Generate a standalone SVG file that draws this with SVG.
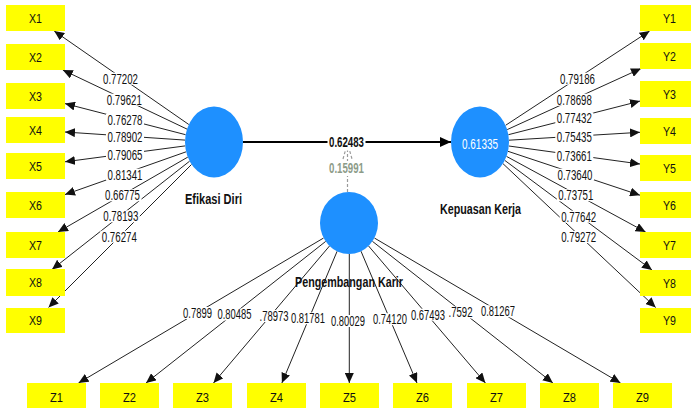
<svg xmlns="http://www.w3.org/2000/svg" width="691" height="408" viewBox="0 0 691 408">
  <defs>
    <marker id="tip" viewBox="0 0 10 9" refX="10" refY="4.5" markerWidth="10" markerHeight="9" markerUnits="userSpaceOnUse" orient="auto">
      <path d="M0,0 L10,4.5 L0,9 z" fill="#111"/>
    </marker>
    <marker id="tipMain" viewBox="0 0 11 10" refX="11" refY="5" markerWidth="11" markerHeight="10" markerUnits="userSpaceOnUse" orient="auto">
      <path d="M0,0 L11,5 L0,10 z" fill="#000"/>
    </marker>
  </defs>
  <style>
    .ind { fill: #ffff00; }
    .lv { fill: #1e90ff; }
    .ln { stroke: #222; stroke-width: 1; fill: none; marker-end: url(#tip); }
    .bg { fill: #ffffff; }
    .num { font-family: "Liberation Sans Narrow", "Liberation Sans", Arial, sans-serif; font-size: 14px; fill: #111; text-anchor: middle; }
    .box { font-family: "Liberation Sans", Arial, sans-serif; font-size: 12.5px; fill: #111; text-anchor: middle; }
    .name { font-family: "Liberation Sans Narrow", "Liberation Sans", Arial, sans-serif; font-size: 14px; font-weight: bold; fill: #111; text-anchor: middle; }
  </style>
  <rect width="691" height="408" fill="#ffffff"/>

  <!-- connectors: outer loadings, path coefficient, moderating effect -->
  <g id="connectors">
    <line class="ln" x1="188.8" y1="124.5" x2="54.2" y2="31"/>
    <line class="ln" x1="187" y1="129.1" x2="62.8" y2="70"/>
    <line class="ln" x1="185.6" y1="134.7" x2="65" y2="103.6"/>
    <line class="ln" x1="185.1" y1="140.1" x2="65" y2="132"/>
    <line class="ln" x1="185.2" y1="145.9" x2="65" y2="161.8"/>
    <line class="ln" x1="186.1" y1="151.8" x2="65" y2="194.6"/>
    <line class="ln" x1="187.8" y1="157.1" x2="58" y2="232"/>
    <line class="ln" x1="189.6" y1="161.2" x2="52" y2="269.5"/>
    <line class="ln" x1="191.5" y1="164.5" x2="48.5" y2="307.5"/>

    <line class="ln" x1="505.6" y1="125.3" x2="649.6" y2="31"/>
    <line class="ln" x1="507.2" y1="129.6" x2="641" y2="68.5"/>
    <line class="ln" x1="508.4" y1="134.7" x2="640" y2="101.1"/>
    <line class="ln" x1="509" y1="140.2" x2="640" y2="132.3"/>
    <line class="ln" x1="508.8" y1="146" x2="640" y2="164"/>
    <line class="ln" x1="508" y1="151.3" x2="640" y2="195.2"/>
    <line class="ln" x1="506.5" y1="156.4" x2="645.6" y2="232"/>
    <line class="ln" x1="504.8" y1="160.4" x2="652" y2="270"/>
    <line class="ln" x1="503" y1="163.7" x2="655.7" y2="307.5"/>

    <line class="ln" x1="323.6" y1="238" x2="78.5" y2="383"/>
    <line class="ln" x1="325.7" y1="241.4" x2="146" y2="383"/>
    <line class="ln" x1="329.5" y1="246" x2="213.5" y2="383"/>
    <line class="ln" x1="337.1" y1="251.3" x2="281.9" y2="383"/>
    <line class="ln" x1="349.3" y1="254" x2="349.3" y2="383"/>
    <line class="ln" x1="361" y1="251.2" x2="417" y2="383"/>
    <line class="ln" x1="368.5" y1="245.9" x2="485.4" y2="383"/>
    <line class="ln" x1="372.4" y1="241.3" x2="552.9" y2="383"/>
    <line class="ln" x1="374.4" y1="238" x2="620.5" y2="383"/>

    <!-- Efikasi Diri -> Kepuasan Kerja -->
    <line x1="243" y1="142" x2="451" y2="142" stroke="#000" stroke-width="2" marker-end="url(#tipMain)"/>

    <!-- moderating effect of Pengembangan Karir -->
    <g stroke="#9a9a9a" stroke-width="1.2" fill="none" stroke-dasharray="3,2">
      <line x1="347.5" y1="192" x2="347.5" y2="143"/>
      <polyline points="343,159 347.5,143 352,159"/>
    </g>

    <!-- loading labels -->
    <g id="loadings-x">
      <rect class="bg" x="102" y="72.7" width="38" height="12"/><text class="num" x="120.5" y="83.6" textLength="35" lengthAdjust="spacingAndGlyphs">0.77202</text>
      <rect class="bg" x="105.3" y="93.7" width="38" height="12"/><text class="num" x="124.3" y="104.6" textLength="35" lengthAdjust="spacingAndGlyphs">0.79621</text>
      <rect class="bg" x="106" y="113.7" width="38" height="12"/><text class="num" x="125" y="124.6" textLength="35" lengthAdjust="spacingAndGlyphs">0.76278</text>
      <rect class="bg" x="106" y="131.3" width="38" height="12"/><text class="num" x="125" y="142.2" textLength="35" lengthAdjust="spacingAndGlyphs">0.78902</text>
      <rect class="bg" x="106" y="148.7" width="38" height="12"/><text class="num" x="125" y="159.6" textLength="35" lengthAdjust="spacingAndGlyphs">0.79065</text>
      <rect class="bg" x="106" y="168.7" width="38" height="12"/><text class="num" x="125" y="179.6" textLength="35" lengthAdjust="spacingAndGlyphs">0.81341</text>
      <rect class="bg" x="103.5" y="189.3" width="38" height="12"/><text class="num" x="122.5" y="200.2" textLength="35" lengthAdjust="spacingAndGlyphs">0.66775</text>
      <rect class="bg" x="101.8" y="210.3" width="38" height="12"/><text class="num" x="120.8" y="221.2" textLength="35" lengthAdjust="spacingAndGlyphs">0.78193</text>
      <rect class="bg" x="100.3" y="230.7" width="38" height="12"/><text class="num" x="119.3" y="241.6" textLength="35" lengthAdjust="spacingAndGlyphs">0.76274</text>
    </g>
    <g id="loadings-y">
      <rect class="bg" x="558.5" y="72.7" width="38" height="12"/><text class="num" x="577.5" y="83.6" textLength="35" lengthAdjust="spacingAndGlyphs">0.79186</text>
      <rect class="bg" x="555.3" y="93.7" width="38" height="12"/><text class="num" x="574.3" y="104.6" textLength="35" lengthAdjust="spacingAndGlyphs">0.78698</text>
      <rect class="bg" x="555.3" y="112.3" width="38" height="12"/><text class="num" x="574.3" y="123.2" textLength="35" lengthAdjust="spacingAndGlyphs">0.77432</text>
      <rect class="bg" x="555.3" y="131.3" width="38" height="12"/><text class="num" x="574.3" y="142.2" textLength="35" lengthAdjust="spacingAndGlyphs">0.75435</text>
      <rect class="bg" x="555.3" y="149.7" width="38" height="12"/><text class="num" x="574.3" y="160.6" textLength="35" lengthAdjust="spacingAndGlyphs">0.73661</text>
      <rect class="bg" x="556" y="168.7" width="38" height="12"/><text class="num" x="575" y="179.6" textLength="35" lengthAdjust="spacingAndGlyphs">0.73640</text>
      <rect class="bg" x="556.8" y="189.3" width="38" height="12"/><text class="num" x="575.8" y="200.2" textLength="35" lengthAdjust="spacingAndGlyphs">0.73751</text>
      <rect class="bg" x="559.7" y="210.7" width="38" height="12"/><text class="num" x="578.7" y="221.6" textLength="35" lengthAdjust="spacingAndGlyphs">0.77642</text>
      <rect class="bg" x="559.7" y="231" width="38" height="12"/><text class="num" x="578.7" y="241.9" textLength="35" lengthAdjust="spacingAndGlyphs">0.79272</text>
    </g>
    <g id="loadings-z">
      <rect class="bg" x="181.5" y="307" width="36" height="12"/><text class="num" x="183" y="317.9" style="text-anchor:start" textLength="29" lengthAdjust="spacingAndGlyphs">0.7899</text>
      <rect class="bg" x="254" y="310" width="36" height="12"/><text class="num" x="288.5" y="320.9" style="text-anchor:end" textLength="29" lengthAdjust="spacingAndGlyphs">.78973</text>
      <rect class="bg" x="445" y="306.5" width="34" height="12"/><text class="num" x="448.5" y="317.4" style="text-anchor:start" textLength="24" lengthAdjust="spacingAndGlyphs">.7592</text>
      <rect class="bg" x="216" y="308.5" width="37" height="12"/><text class="num" x="234.5" y="319.4" textLength="34" lengthAdjust="spacingAndGlyphs">0.80485</text>
      <rect class="bg" x="289.5" y="312.3" width="37" height="12"/><text class="num" x="308" y="323.2" textLength="34" lengthAdjust="spacingAndGlyphs">0.81781</text>
      <rect class="bg" x="329.5" y="315" width="37" height="12"/><text class="num" x="348" y="325.9" textLength="34" lengthAdjust="spacingAndGlyphs">0.80029</text>
      <rect class="bg" x="371.5" y="313.2" width="37" height="12"/><text class="num" x="390" y="324.1" textLength="34" lengthAdjust="spacingAndGlyphs">0.74120</text>
      <rect class="bg" x="409.5" y="308.7" width="37" height="12"/><text class="num" x="428" y="319.6" textLength="34" lengthAdjust="spacingAndGlyphs">0.67493</text>
      <rect class="bg" x="479.5" y="305.3" width="37" height="12"/><text class="num" x="498" y="316.2" textLength="34" lengthAdjust="spacingAndGlyphs">0.81267</text>
    </g>

    <!-- coefficient labels on the structural path -->
    <rect class="bg" x="327.5" y="134.5" width="38" height="16"/>
    <text class="name" x="346.5" y="146.5" textLength="35" lengthAdjust="spacingAndGlyphs">0.62483</text>
    <rect class="bg" x="327.5" y="161" width="38" height="15"/>
    <text class="name" x="346.5" y="173" textLength="35" lengthAdjust="spacingAndGlyphs" style="fill:#8d9c89">0.15991</text>
  </g>

  <!-- indicators of Efikasi Diri -->
  <g id="X1"><rect class="ind" x="6" y="5" width="59" height="26"/><text class="box" x="35.5" y="22.5" textLength="13" lengthAdjust="spacingAndGlyphs">X1</text></g>
  <g id="X2"><rect class="ind" x="6" y="44" width="59" height="26"/><text class="box" x="35.5" y="61.5" textLength="13" lengthAdjust="spacingAndGlyphs">X2</text></g>
  <g id="X3"><rect class="ind" x="6" y="83" width="59" height="26"/><text class="box" x="35.5" y="100.5" textLength="13" lengthAdjust="spacingAndGlyphs">X3</text></g>
  <g id="X4"><rect class="ind" x="6" y="117" width="59" height="26"/><text class="box" x="35.5" y="134.5" textLength="13" lengthAdjust="spacingAndGlyphs">X4</text></g>
  <g id="X5"><rect class="ind" x="6" y="153" width="59" height="26"/><text class="box" x="35.5" y="170.5" textLength="13" lengthAdjust="spacingAndGlyphs">X5</text></g>
  <g id="X6"><rect class="ind" x="6" y="192" width="59" height="26"/><text class="box" x="35.5" y="209.5" textLength="13" lengthAdjust="spacingAndGlyphs">X6</text></g>
  <g id="X7"><rect class="ind" x="6" y="232" width="59" height="26"/><text class="box" x="35.5" y="249.5" textLength="13" lengthAdjust="spacingAndGlyphs">X7</text></g>
  <g id="X8"><rect class="ind" x="6" y="269" width="59" height="27"/><text class="box" x="35.5" y="287" textLength="13" lengthAdjust="spacingAndGlyphs">X8</text></g>
  <g id="X9"><rect class="ind" x="6" y="308" width="59" height="25"/><text class="box" x="35.5" y="325" textLength="13" lengthAdjust="spacingAndGlyphs">X9</text></g>

  <!-- indicators of Kepuasan Kerja -->
  <g id="Y1"><rect class="ind" x="640" y="5" width="59" height="26"/><text class="box" x="669.5" y="22.5" textLength="13" lengthAdjust="spacingAndGlyphs">Y1</text></g>
  <g id="Y2"><rect class="ind" x="640" y="43" width="59" height="26"/><text class="box" x="669.5" y="60.5" textLength="13" lengthAdjust="spacingAndGlyphs">Y2</text></g>
  <g id="Y3"><rect class="ind" x="640" y="81" width="59" height="26"/><text class="box" x="669.5" y="98.5" textLength="13" lengthAdjust="spacingAndGlyphs">Y3</text></g>
  <g id="Y4"><rect class="ind" x="640" y="118" width="59" height="26"/><text class="box" x="669.5" y="135.5" textLength="13" lengthAdjust="spacingAndGlyphs">Y4</text></g>
  <g id="Y5"><rect class="ind" x="640" y="155" width="59" height="26"/><text class="box" x="669.5" y="172.5" textLength="13" lengthAdjust="spacingAndGlyphs">Y5</text></g>
  <g id="Y6"><rect class="ind" x="640" y="192" width="59" height="26"/><text class="box" x="669.5" y="209.5" textLength="13" lengthAdjust="spacingAndGlyphs">Y6</text></g>
  <g id="Y7"><rect class="ind" x="640" y="232" width="59" height="26"/><text class="box" x="669.5" y="249.5" textLength="13" lengthAdjust="spacingAndGlyphs">Y7</text></g>
  <g id="Y8"><rect class="ind" x="640" y="270" width="59" height="26"/><text class="box" x="669.5" y="287.5" textLength="13" lengthAdjust="spacingAndGlyphs">Y8</text></g>
  <g id="Y9"><rect class="ind" x="640" y="308" width="59" height="25"/><text class="box" x="669.5" y="325" textLength="13" lengthAdjust="spacingAndGlyphs">Y9</text></g>

  <!-- indicators of Pengembangan Karir -->
  <g id="Z1"><rect class="ind" x="27" y="383" width="59" height="26"/><text class="box" x="56.5" y="401.5" textLength="13" lengthAdjust="spacingAndGlyphs">Z1</text></g>
  <g id="Z2"><rect class="ind" x="100" y="383" width="59" height="26"/><text class="box" x="129.5" y="401.5" textLength="13" lengthAdjust="spacingAndGlyphs">Z2</text></g>
  <g id="Z3"><rect class="ind" x="173" y="383" width="59" height="26"/><text class="box" x="202.5" y="401.5" textLength="13" lengthAdjust="spacingAndGlyphs">Z3</text></g>
  <g id="Z4"><rect class="ind" x="247" y="383" width="59" height="26"/><text class="box" x="276.5" y="401.5" textLength="13" lengthAdjust="spacingAndGlyphs">Z4</text></g>
  <g id="Z5"><rect class="ind" x="320" y="383" width="59" height="26"/><text class="box" x="349.5" y="401.5" textLength="13" lengthAdjust="spacingAndGlyphs">Z5</text></g>
  <g id="Z6"><rect class="ind" x="393" y="383" width="59" height="26"/><text class="box" x="422.5" y="401.5" textLength="13" lengthAdjust="spacingAndGlyphs">Z6</text></g>
  <g id="Z7"><rect class="ind" x="467" y="383" width="59" height="26"/><text class="box" x="496.5" y="401.5" textLength="13" lengthAdjust="spacingAndGlyphs">Z7</text></g>
  <g id="Z8"><rect class="ind" x="540" y="383" width="59" height="26"/><text class="box" x="569.5" y="401.5" textLength="13" lengthAdjust="spacingAndGlyphs">Z8</text></g>
  <g id="Z9"><rect class="ind" x="613" y="383" width="59" height="26"/><text class="box" x="642.5" y="401.5" textLength="13" lengthAdjust="spacingAndGlyphs">Z9</text></g>

  <!-- latent variables -->
  <g id="efikasi-diri">
    <ellipse class="lv" cx="214" cy="142" rx="29" ry="35.5"/>
    <text class="name" x="213.5" y="203.5" textLength="57" lengthAdjust="spacingAndGlyphs">Efikasi Diri</text>
  </g>
  <g id="kepuasan-kerja">
    <ellipse class="lv" cx="480" cy="142" rx="29" ry="35.5"/>
    <text class="num" x="480" y="148.5" textLength="36" lengthAdjust="spacingAndGlyphs" style="fill:#ffffff">0.61335</text>
    <text class="name" x="480.5" y="214" textLength="81" lengthAdjust="spacingAndGlyphs">Kepuasan Kerja</text>
  </g>
  <g id="pengembangan-karir">
    <ellipse class="lv" cx="349" cy="223" rx="29" ry="31"/>
    <text class="name" x="349" y="287" textLength="108" lengthAdjust="spacingAndGlyphs">Pengembangan Karir</text>
  </g>
</svg>
